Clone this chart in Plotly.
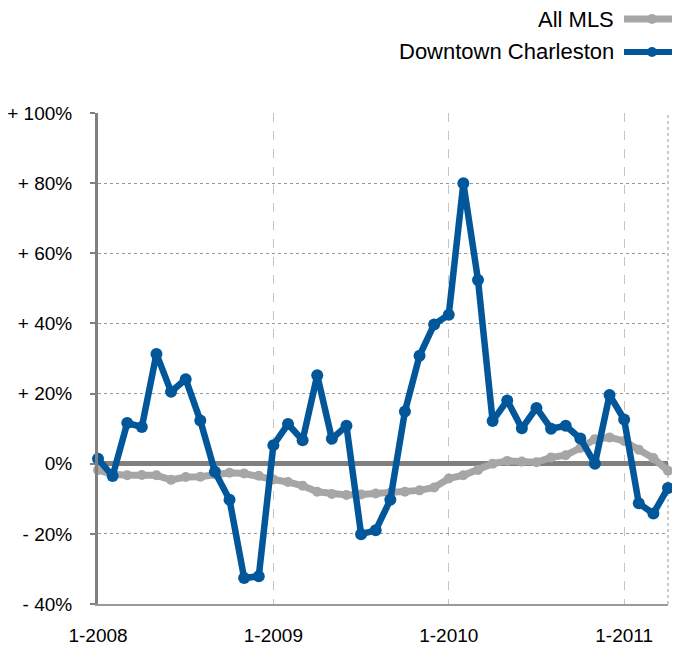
import plotly.graph_objects as go

# Months from Jan 2008 through Apr 2011 (index 0..39)
months = list(range(40))
tick_positions = [0, 12, 24, 36]
tick_labels = ["1-2008", "1-2009", "1-2010", "1-2011"]

y_tick_values = [-40, -20, 0, 20, 40, 60, 80, 100]
y_tick_labels = ["- 40%", "- 20%", "0%", "+ 20%", "+ 40%", "+ 60%", "+ 80%", "+ 100%"]

all_mls = [-1.8, -3.0, -3.3, -3.2, -3.3, -4.6, -3.8, -3.7, -3.0, -2.6,
           -2.8, -3.4, -4.5, -5.2, -6.3, -8.0, -8.6, -8.9, -8.8, -8.5,
           -8.3, -8.0, -7.6, -6.8, -4.2, -3.3, -1.8, 0.0, 0.8, 0.6,
           0.4, 1.8, 2.4, 4.5, 7.0, 7.5, 6.5, 4.0, 1.6, -2.0]

downtown = [1.4, -3.5, 11.6, 10.5, 31.3, 20.5, 24.1, 12.3, -2.3, -10.3,
            -32.6, -32.1, 5.3, 11.3, 6.7, 25.2, 7.1, 10.8, -20.1, -19.0,
            -10.3, 14.9, 30.8, 39.7, 42.5, 80.0, 52.4, 12.2, 18.0, 10.1,
            15.9, 10.0, 10.8, 7.2, 0.0, 19.6, 12.6, -11.3, -14.2, -6.9]

GREY = "#a6a6a6"
BLUE = "#02579b"

# page body has an 8px margin; size the figure to fit the window
OFF = 8
W, H = 680 - OFF, 646 - OFF
L, T, R, B = 98 - OFF, 113 - OFF, W - (668 - OFF), H - (604 - OFF)
PW, PH = W - L - R, H - T - B

fig = go.Figure()
fig.add_trace(go.Scatter(x=months, y=all_mls, mode="lines+markers", name="All MLS",
                         line=dict(color=GREY, width=7), marker=dict(color=GREY, size=10),
                         showlegend=False, cliponaxis=False))
fig.add_trace(go.Scatter(x=months, y=downtown, mode="lines+markers", name="Downtown Charleston",
                         line=dict(color=BLUE, width=6.5), marker=dict(color=BLUE, size=12),
                         showlegend=False, cliponaxis=False))

font_family = "Liberation Sans, Arial, sans-serif"

fig.update_layout(
    width=W, height=H,
    margin=dict(l=L, r=R, t=T, b=B),
    paper_bgcolor="white", plot_bgcolor="white",
    font=dict(family=font_family, color="black", size=18),
    xaxis=dict(range=[0, 39], tickmode="array", tickvals=tick_positions, ticktext=tick_labels,
               showgrid=True, gridcolor="#c4c4c4", griddash="dash", gridwidth=1,
               showline=True, linecolor="#9a9a9a", linewidth=1.5,
               ticks="", ticklabelstandoff=13, zeroline=False, automargin=False,
               tickfont=dict(size=19)),
    yaxis=dict(range=[-40, 100], tickmode="array", tickvals=y_tick_values, ticktext=y_tick_labels,
               showgrid=True, gridcolor="#999999", griddash="dot", gridwidth=1,
               showline=True, linecolor="#808080", linewidth=3,
               ticks="outside", ticklen=5, tickcolor="#808080", tickwidth=2,
               ticklabelstandoff=14, automargin=False,
               zeroline=True, zerolinecolor="#808080", zerolinewidth=5,
               tickfont=dict(size=19)),
)

# right border of plot area (dotted)
fig.add_shape(type="line", xref="paper", yref="paper", x0=1, x1=1, y0=0, y1=1,
              line=dict(color="#999999", width=1, dash="dot"), layer="below")

# legend drawn manually (symbol to the right of text)
def px_x(v):
    return (v - OFF - L) / PW

def px_y(v):
    return 1 + (T - (v - OFF)) / PH

legend_items = [("All MLS", GREY, 19), ("Downtown Charleston", BLUE, 52)]
for name, color, ypix in legend_items:
    yp = px_y(ypix)
    fig.add_annotation(text=name, xref="paper", yref="paper",
                       x=px_x(616), y=yp, xanchor="right", yanchor="middle",
                       showarrow=False, font=dict(size=22, family=font_family, color="black"))
    fig.add_shape(type="line", xref="paper", yref="paper",
                  x0=px_x(624), x1=px_x(690), y0=yp, y1=yp,
                  line=dict(color=color, width=7 if color == GREY else 6))
    cx = px_x(652)
    r = 5
    fig.add_shape(type="circle", xref="paper", yref="paper",
                  x0=cx - r / PW, x1=cx + r / PW, y0=yp - r / PH, y1=yp + r / PH,
                  fillcolor=color, line=dict(color=color, width=0))

fig.write_html("out.html")
